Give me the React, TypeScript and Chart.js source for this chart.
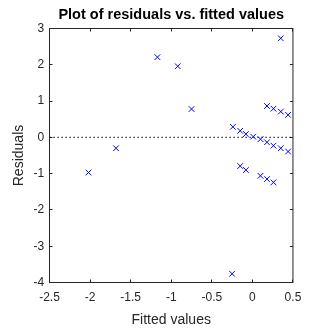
import React, { useEffect, useRef } from "react";
import { Chart, registerables } from "chart.js";

Chart.register(...registerables);

const fittedValues = [
  -2.02, -1.68, -1.17, -0.92, -0.75, 0.35,
  -0.24, -0.15, -0.08, 0.01, 0.1, 0.18, 0.26, 0.35, 0.44,
  0.18, 0.26, 0.35, 0.44,
  -0.15, -0.08, 0.1, 0.18, 0.26,
  -0.25,
];
const residuals = [
  -0.97, -0.3, 2.21, 1.96, 0.78, 2.73,
  0.29, 0.18, 0.09, 0.02, -0.05, -0.135, -0.23, -0.3, -0.39,
  0.865, 0.79, 0.71, 0.62,
  -0.79, -0.9, -1.06, -1.15, -1.24,
  -3.76,
];
const xTickValues = [-2.5, -2, -1.5, -1, -0.5, 0, 0.5];
const xTickLabels = ["-2.5", "-2", "-1.5", "-1", "-0.5", "0", "0.5"];
const yTickValues = [-4, -3, -2, -1, 0, 1, 2, 3];
const yTickLabels = ["-4", "-3", "-2", "-1", "0", "1", "2", "3"];
const zeroLineX = [-2.5, 0.5];
const zeroLineY = [0, 0];
const titleText = "Plot of residuals vs. fitted values";
const xLabel = "Fitted values";
const yLabel = "Residuals";

const AXIS_COLOR = "#262626";
const FONT = "'Liberation Sans', Arial, Helvetica, sans-serif";

const crisp = (v: number) => Math.round(v - 0.5) + 0.5;

const boxPlugin = {
  id: "matlabBox",
  beforeDatasetsDraw(chart: any) {
    const { ctx, chartArea: a, scales } = chart;
    const tl = 3;
    ctx.save();
    ctx.strokeStyle = AXIS_COLOR;
    ctx.lineWidth = 1;
    ctx.setLineDash([]);
    ctx.strokeRect(a.left, a.top, a.right - a.left, a.bottom - a.top);
    ctx.beginPath();
    for (const v of xTickValues) {
      const px = crisp(scales.x.getPixelForValue(v));
      ctx.moveTo(px, a.bottom);
      ctx.lineTo(px, a.bottom - tl);
      ctx.moveTo(px, a.top);
      ctx.lineTo(px, a.top + tl);
    }
    for (const v of yTickValues) {
      const py = crisp(scales.y.getPixelForValue(v));
      ctx.moveTo(a.left, py);
      ctx.lineTo(a.left + tl, py);
      ctx.moveTo(a.right, py);
      ctx.lineTo(a.right - tl, py);
    }
    ctx.stroke();
    ctx.restore();
  },
};

export default function App() {
  const canvasRef = useRef<HTMLCanvasElement | null>(null);

  useEffect(() => {
    if (!canvasRef.current) return;
    const chart = new Chart(canvasRef.current, {
      type: "scatter",
      data: {
        datasets: [
          {
            type: "scatter",
            data: fittedValues.map((x, i) => ({ x, y: residuals[i] })),
            pointStyle: "crossRot",
            pointRadius: 4,
            pointBorderWidth: 1,
            borderColor: "#0000ff",
            backgroundColor: "#0000ff",
            showLine: false,
          } as any,
          {
            type: "line",
            data: zeroLineX.map((x, i) => ({ x, y: zeroLineY[i] })),
            borderColor: "#000000",
            borderWidth: 1.3,
            borderDash: [1.2, 2.8],
            pointRadius: 0,
            fill: false,
            tension: 0,
          } as any,
        ],
      },
      options: {
        responsive: false,
        animation: false,
        devicePixelRatio: 1,
        layout: { padding: { left: 0, right: 11.5, top: 0, bottom: 0 } },
        plugins: {
          legend: { display: false },
          tooltip: { enabled: false },
          title: {
            display: true,
            text: titleText,
            fullSize: false,
            color: "#000000",
            font: { family: FONT, size: 14.5, weight: "bold", lineHeight: 1.2 },
            padding: { top: 6.2, bottom: 4.9 },
          },
        },
        scales: {
          x: {
            type: "linear",
            position: "bottom",
            min: -2.5,
            max: 0.5,
            afterBuildTicks: (s: any) => {
              s.ticks = xTickValues.map((v) => ({ value: v }));
            },
            afterFit: (s: any) => {
              s.height = 46.5;
            },
            grid: { display: false, drawTicks: false },
            border: { display: false },
            ticks: {
              color: AXIS_COLOR,
              font: { family: FONT, size: 12, lineHeight: 1.2 },
              padding: 7.7,
              maxRotation: 0,
              autoSkip: false,
              callback: (_v: any, i: number) => xTickLabels[i],
            },
            title: {
              display: true,
              text: xLabel,
              color: AXIS_COLOR,
              font: { family: FONT, size: 14, lineHeight: 1.2 },
              padding: { top: 0, bottom: 0.6 },
            },
          },
          y: {
            type: "linear",
            position: "left",
            min: -4,
            max: 3,
            afterBuildTicks: (s: any) => {
              s.ticks = yTickValues.map((v) => ({ value: v }));
            },
            afterFit: (s: any) => {
              s.width = 49.5;
            },
            grid: { display: false, drawTicks: false },
            border: { display: false },
            ticks: {
              color: AXIS_COLOR,
              font: { family: FONT, size: 12, lineHeight: 1.2 },
              padding: 5.3,
              autoSkip: false,
              callback: (_v: any, i: number) => yTickLabels[i],
            },
            title: {
              display: true,
              text: yLabel,
              color: AXIS_COLOR,
              font: { family: FONT, size: 14, lineHeight: 1.2 },
              padding: { top: 10.5, bottom: 0 },
            },
          },
        },
      } as any,
      plugins: [boxPlugin],
    });
    return () => chart.destroy();
  }, []);

  return (
    <div style={{ position: "fixed", left: 0, top: 0, width: 309, height: 329, background: "#ffffff" }}>
      <canvas ref={canvasRef} width={309} height={329} style={{ display: "block", width: 309, height: 329 }} />
    </div>
  );
}
